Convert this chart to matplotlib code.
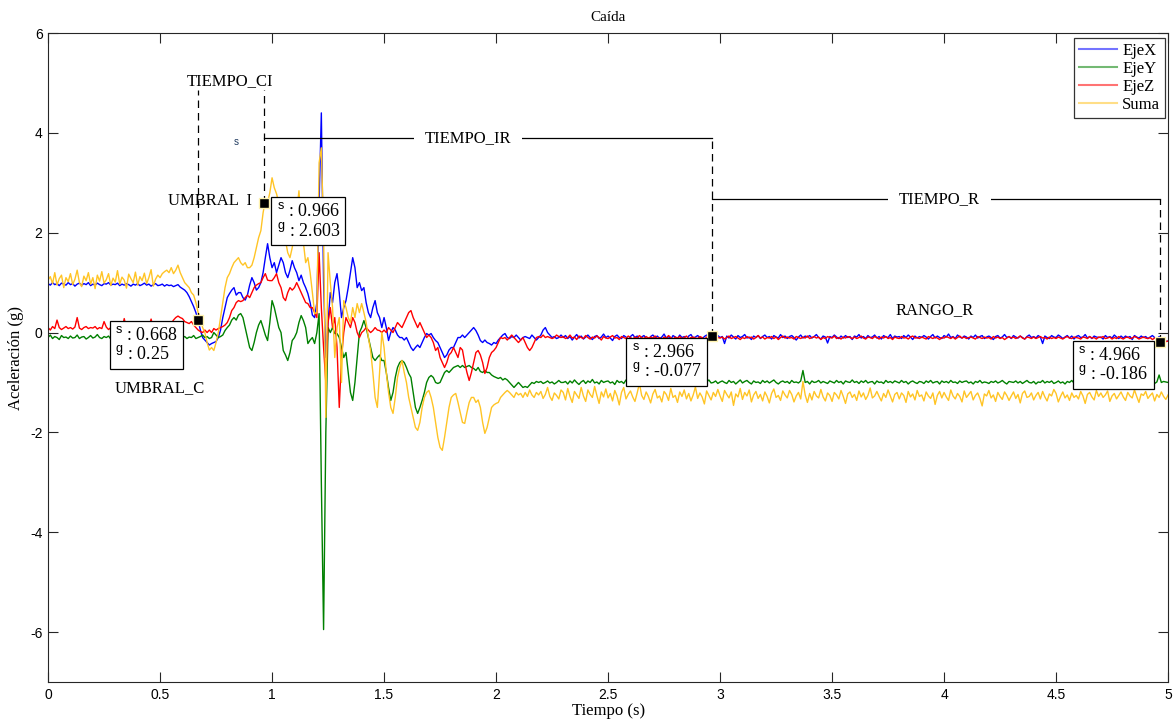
#%% Libraries
import numpy as np
import matplotlib
matplotlib.use("Agg")
import matplotlib.pyplot as plt
from matplotlib.lines import Line2D

plt.rcParams['font.family'] = ['Liberation Serif', 'DejaVu Serif']
plt.rcParams['axes.unicode_minus'] = False
plt.rcParams['mathtext.fontset'] = 'custom'
plt.rcParams['mathtext.sf'] = 'Liberation Sans'
plt.rcParams['mathtext.rm'] = 'Liberation Serif'

#%% data (aceleracion en centi-g, muestreo cada 0.01 s)
dt = 0.01

eje_x = [
    98, 95, 100, 96, 98, 94, 99, 97, 95, 100,
    96, 98, 93, 97, 99, 95, 98, 96, 100, 94,
    97, 95, 99, 96, 94, 98, 97, 100, 95, 97,
    96, 99, 94, 97, 95, 98, 96, 93, 97, 95,
    98, 94, 96, 99, 95, 97, 93, 96, 98, 94,
    95, 97, 93, 96, 94, 95, 92, 94, 96, 91,
    88, 85, 80, 72, 62, 52, 40, 24, 5, -10,
    -15, -20, -25, -22, -20, -18, -10, 5, 30, 50,
    70, 78, 85, 90, 75, 80, 80, 70, 65, 75,
    95, 110, 100, 85, 90, 100, 120, 150, 178, 150,
    130, 140, 120, 135, 150, 140, 120, 110, 125, 144,
    130, 120, 104, 115, 100, 90, 78, 60, 35, 30,
    60, 260, 440, 100, -50, 20, 80, 60, 100, 118,
    80, 30, 50, 64, 90, 120, 150, 130, 90, 100,
    84, 90, 60, 40, 30, 50, 64, 40, 30, 10,
    30, 10, -16, 0, 10, 5, -5, -10, -10, -15,
    -10, -20, -30, -36, -30, -25, -30, -20, -10, -2,
    -5, -2, -10, -16, -20, -30, -40, -50, -45, -35,
    -30, -30, -20, -10, -10, -5, -10, -5, 0, 5,
    10, 4, -5, -16, -20, -15, -20, -22, -25, -20,
    -22, -15, -10, -5, -2, -10, -12, -8, -10, -5,
    -10, -15, -10, -8, -10, -12, -5, -10, -15, -10,
    -5, 5, 10, 0, -5, -10, -8, -12, -10, -5,
    -10, -6, -12, -8, -15, -9, -4, -11, -7, -13,
    -9, -5, -10, -14, -8, -6, -12, -9, -3, -10,
    -7, -11, -16, -8, -5, -10, -12, -6, -9, -14,
    -8, -4, -10, -7, -13, -9, -6, -11, -20, -8,
    -5, -10, -7, -12, -9, -3, -11, -8, -14, -6,
    -9, -12, -5, -10, -8, -15, -7, -4, -11, -9,
    -6, -10, -13, -8, -5, -11, -7, -9, -12, -6,
    -10, -8, -22, -7, -11, -5, -9, -13, -6, -10,
    -8, -4, -11, -9, -14, -7, -10, -6, -12, -8,
    -5, -10, -8, -13, -6, -9, -11, -4, -10, -7,
    -12, -8, -6, -10, -15, -9, -5, -11, -7, -9,
    -6, -11, -8, -4, -10, -13, -7, -9, -21, -8,
    -10, -5, -9, -12, -7, -11, -6, -10, -8, -14,
    -7, -9, -4, -11, -8, -12, -6, -10, -9, -5,
    -11, -8, -13, -6, -9, -10, -4, -12, -7, -9,
    -8, -12, -6, -10, -5, -9, -14, -7, -11, -8,
    -10, -6, -9, -13, -8, -4, -11, -7, -10, -12,
    -6, -9, -3, -10, -8, -12, -5, -9, -11, -7,
    -9, -13, -7, -10, -5, -11, -8, -6, -12, -9,
    -7, -10, -14, -8, -6, -11, -9, -4, -10, -8,
    -12, -6, -9, -11, -7, -10, -13, -8, -5, -10,
    -8, -11, -6, -9, -22, -7, -10, -12, -6, -9,
    -10, -5, -8, -12, -9, -6, -11, -7, -13, -8,
    -6, -10, -9, -4, -11, -8, -12, -7, -9, -10,
    -9, -13, -6, -10, -8, -11, -5, -9, -12, -7,
    -11, -7, -10, -8, -14, -6, -9, -11, -7, -10,
    -8, -12, -9, -6, -10, -13, -8, -11, -15, -18,
    -17]

eje_y = [
    -10, -5, -12, -8, -10, -14, -6, -10, -9, -12,
    -7, -11, -10, -5, -12, -9, -8, -13, -10, -6,
    -11, -9, -4, -10, -12, -8, -10, -7, -13, -9,
    -10, -6, -12, -9, -11, -5, -10, -13, -8, -10,
    -9, -12, -7, -10, -5, -11, -9, -13, -10, -8,
    -12, -9, -10, -6, -11, -8, -13, -10, -7, -11,
    -10, -8, -12, -9, -10, -6, -12, -10, -8, -5,
    -10, -8, -12, -10, 0, -5, -10, -8, -5, 4,
    10, 15, 25, 30, 25, 35, 38, 30, 10, -10,
    -30, -36, -20, 0, 15, 24, 10, -5, -16, 20,
    64, 50, 30, 10, 0, -36, -45, -56, -40, -16,
    -10, 0, 20, 34, 24, 10, -22, -15, -10, -22,
    0, 38, -300, -595, -200, 10, 0, 10, -2, -2,
    -10, -30, -50, -40, -80, -120, -136, -100, -50, 0,
    10, 24, 10, -10, -30, -50, -56, -50, -45, -56,
    -56, -80, -110, -136, -120, -90, -70, -60, -56, -60,
    -70, -82, -90, -120, -150, -162, -150, -136, -120, -100,
    -90, -86, -90, -100, -102, -100, -90, -80, -76, -80,
    -75, -70, -68, -66, -70, -66, -70, -68, -66, -70,
    -72, -76, -70, -78, -80, -76, -80, -80, -85, -88,
    -90, -92, -90, -95, -92, -95, -100, -105, -110, -105,
    -100, -105, -110, -108, -110, -105, -100, -102, -98, -100,
    -98, -102, -100, -97, -101, -99, -103, -100, -96, -100,
    -100, -98, -103, -97, -101, -95, -100, -104, -99, -96,
    -102, -97, -100, -94, -101, -99, -103, -96, -100, -98,
    -97, -101, -99, -104, -96, -100, -98, -102, -95, -100,
    -99, -103, -97, -100, -86, -101, -98, -96, -102, -99,
    -101, -96, -100, -98, -103, -97, -99, -101, -95, -100,
    -98, -102, -99, -96, -100, -104, -97, -100, -98, -101,
    -96, -100, -103, -98, -99, -95, -101, -100, -97, -102,
    -99, -97, -100, -102, -96, -100, -98, -103, -99, -95,
    -101, -98, -96, -100, -103, -97, -100, -99, -102, -96,
    -100, -97, -101, -98, -95, -100, -103, -99, -97, -100,
    -98, -102, -96, -100, -99, -101, -97, -76, -100, -98,
    -103, -97, -100, -99, -96, -101, -98, -100, -102, -97,
    -99, -101, -96, -100, -98, -103, -97, -99, -100, -95,
    -100, -98, -102, -97, -100, -96, -101, -99, -98, -103,
    -97, -100, -99, -102, -96, -100, -98, -101, -97, -99,
    -101, -96, -100, -98, -103, -99, -97, -100, -102, -98,
    -99, -102, -97, -100, -96, -101, -99, -98, -103, -97,
    -100, -98, -101, -96, -100, -99, -102, -97, -100, -98,
    -97, -101, -99, -103, -98, -100, -96, -101, -99, -100,
    -102, -98, -100, -97, -101, -99, -96, -100, -103, -98,
    -99, -100, -97, -101, -98, -102, -99, -96, -100, -101,
    -98, -103, -99, -100, -96, -101, -98, -100, -97, -102,
    -100, -97, -101, -99, -103, -98, -100, -96, -101, -99,
    -98, -101, -97, -100, -99, -102, -96, -100, -98, -103,
    -100, -99, -102, -97, -101, -98, -100, -99, -96, -101,
    -99, -102, -98, -100, -97, -101, -99, -103, -98, -100,
    -97, -100, -101, -98, -102, -99, -85, -100, -98, -99,
    -100]

eje_z = [
    10, 5, 12, 8, 25, 10, 6, 9, 12, 8,
    10, 7, 11, 30, 9, 6, 10, 12, 8, 10,
    9, 12, 7, 10, 8, 22, 11, 6, 10, 9,
    12, 8, 10, 6, 28, 9, 11, 7, 10, 12,
    8, 10, 6, 12, 9, 10, 27, 8, 11, 7,
    10, 9, 12, 8, 11, 18, 25, 30, 33, 30,
    28, 22, 20, 18, 22, 15, 10, 5, 2, 0,
    5, 0, 5, 0, 8, 5, 8, 10, 12, 15,
    20, 30, 44, 50, 60, 64, 62, 64, 70, 75,
    70, 80, 90, 95, 98, 100, 110, 118, 105, 104,
    104, 110, 118, 100, 90, 70, 64, 80, 90, 85,
    90, 100, 90, 80, 70, 60, 58, 50, 50, 40,
    30, 160, 50, -30, -100, 20, 50, 10, 30, -30,
    -150, -50, 0, 30, 20, 10, 30, 20, 0, -10,
    0, 4, 10, 5, 0, 4, 10, 5, 4, 0,
    5, 0, 10, 5, 0, 10, 20, 15, 10, 20,
    30, 40, 44, 30, 20, 10, 20, 10, 0, -10,
    -5, -10, -20, -36, -30, -50, -60, -70, -60, -45,
    -40, -30, -40, -50, -30, -35, -60, -80, -96, -80,
    -60, -40, -36, -45, -60, -82, -70, -50, -40, -36,
    -30, -20, -10, -12, -10, -15, -10, -5, -10, -15,
    -20, -15, -10, -20, -30, -36, -30, -20, -10, -8,
    -10, -5, -10, -8, -10, -12, -10, -5, -8, -10,
    -8, -12, -10, -5, -11, -9, -14, -7, -10, -12,
    -6, -10, -13, -9, -11, -7, -10, -15, -8, -11,
    -12, -9, -6, -11, -10, -14, -8, -10, -12, -7,
    -10, -13, -9, -11, -6, -10, -12, -8, -11, -9,
    -11, -7, -12, -10, -14, -9, -11, -6, -10, -13,
    -9, -11, -8, -12, -10, -7, -13, -10, -9, -11,
    -12, -8, -10, -14, -9, -11, -7, -8, -12, -10,
    -11, -9, -13, -10, -7, -12, -10, -8, -11, -14,
    -10, -12, -8, -11, -9, -13, -10, -6, -11, -9,
    -13, -10, -11, -8, -12, -9, -14, -10, -7, -11,
    -9, -11, -10, -13, -8, -10, -12, -9, -11, -7,
    -12, -10, -8, -11, -9, -14, -10, -12, -8, -10,
    -11, -7, -12, -10, -13, -9, -11, -8, -10, -12,
    -9, -12, -10, -7, -11, -13, -9, -10, -12, -8,
    -10, -13, -9, -11, -8, -12, -10, -14, -9, -11,
    -12, -8, -11, -10, -13, -9, -7, -11, -10, -12,
    -9, -11, -13, -8, -10, -12, -9, -11, -14, -10,
    -11, -8, -10, -12, -9, -13, -10, -7, -11, -9,
    -12, -10, -9, -11, -13, -8, -10, -12, -9, -11,
    -10, -13, -8, -11, -9, -12, -10, -14, -11, -8,
    -11, -9, -12, -10, -7, -11, -13, -9, -10, -12,
    -9, -12, -10, -8, -11, -10, -13, -9, -12, -10,
    -12, -9, -11, -13, -10, -8, -11, -12, -9, -10,
    -11, -13, -9, -10, -12, -8, -11, -10, -13, -9,
    -10, -8, -12, -11, -9, -13, -10, -12, -8, -11,
    -13, -10, -9, -12, -11, -8, -10, -13, -11, -9,
    -11, -12, -10, -14, -11, -13, -15, -17, -16, -18,
    -17]

suma = [
    105, 112, 98, 120, 95, 108, 115, 90, 110, 102,
    118, 96, 107, 125, 100, 92, 113, 104, 120, 97,
    110, 88, 115, 103, 122, 99, 106, 118, 94, 109,
    101, 124, 97, 111, 105, 89, 117, 108, 100, 121,
    95, 112, 104, 119, 98, 110, 126, 93, 107, 115,
    110, 118, 122, 125, 120, 130, 118, 125, 135, 120,
    110, 100, 95, 90, 80, 75, 60, 40, 30, 10,
    0, -20, -35, -30, -36, -20, 0, 30, 60, 90,
    110, 118, 130, 140, 145, 150, 140, 135, 140, 130,
    130, 135, 150, 170, 190, 204, 240, 265, 260, 280,
    310, 290, 278, 260, 230, 200, 184, 160, 150, 170,
    200, 240, 284, 220, 180, 140, 150, 120, 80, 38,
    40, 340, 370, 200, -170, 160, 100, 50, -50, 10,
    30, -100, 64, 50, 30, 20, 50, 30, 58, 40,
    58, 40, 20, -10, -36, -80, -130, -150, -80, 0,
    -30, -80, -120, -150, -162, -130, -90, -70, -56, -80,
    -100, -130, -150, -170, -190, -196, -180, -150, -130, -120,
    -116, -130, -150, -180, -210, -230, -236, -210, -180, -150,
    -130, -125, -122, -140, -160, -180, -182, -160, -140, -130,
    -130, -140, -135, -150, -180, -202, -190, -170, -150, -145,
    -142, -140, -130, -125, -120, -116, -120, -125, -130, -120,
    -125, -122, -130, -120, -128, -115, -125, -130, -120, -125,
    -118, -132, -124, -110, -128, -136, -121, -126, -133, -115,
    -120, -135, -112, -128, -140, -118, -125, -132, -110, -127,
    -138, -115, -124, -130, -108, -126, -142, -119, -129, -113,
    -131, -122, -137, -116, -127, -145, -120, -110, -133, -124,
    -117, -129, -138, -121, -102, -126, -134, -119, -128, -141,
    -123, -114, -131, -127, -139, -118, -124, -136, -112, -130,
    -126, -140, -119, -128, -115, -133, -122, -137, -125, -109,
    -132, -121, -129, -143, -117, -126, -135, -120, -128, -114,
    -127, -138, -116, -124, -131, -119, -146, -123, -129, -112,
    -134, -120, -127, -115, -139, -125, -118, -132, -124, -137,
    -119, -128, -141, -122, -113, -130, -126, -136, -117, -125,
    -131, -116, -124, -139, -127, -120, -133, -98, -125, -140,
    -122, -135, -118, -127, -131, -114, -129, -137, -121, -126,
    -138, -120, -125, -133, -116, -128, -142, -123, -119, -130,
    -124, -136, -117, -129, -121, -134, -126, -111, -131, -127,
    -118, -128, -137, -122, -130, -115, -127, -139, -124, -120,
    -133, -121, -126, -140, -118, -129, -123, -135, -116, -128,
    -125, -137, -119, -127, -132, -121, -144, -126, -118, -131,
    -120, -129, -136, -115, -127, -133, -122, -128, -139, -117,
    -130, -124, -118, -135, -126, -121, -132, -147, -123, -127,
    -116, -131, -125, -138, -120, -128, -134, -119, -126, -136,
    -127, -119, -132, -124, -141, -122, -117, -130, -128, -121,
    -135, -126, -120, -133, -118, -129, -137, -123, -127, -114,
    -122, -139, -128, -119, -131, -125, -136, -121, -130, -126,
    -133, -118, -127, -142, -124, -120, -129, -135, -116, -128,
    -121, -130, -125, -117, -138, -127, -122, -133, -126, -119,
    -129, -136, -120, -127, -131, -115, -128, -140, -123, -126,
    -118, -132, -126, -121, -137, -124, -130, -119, -128, -134,
    -125]

labels = ['EjeX', 'EjeY', 'EjeZ', 'Suma']
colors = ['#0000FF', '#008000', '#FF0000', '#FFC425']

# data tips (s, g)
tip_s = [0.668, 0.966, 2.966, 4.966]
tip_g = [0.25, 2.603, -0.077, -0.186]

#%% plotting
fig = plt.figure(figsize=(11.75, 7.21), dpi=100)
ax = fig.add_axes([0.0409, 0.0541, 0.9532, 0.9001])

for serie, lab, col in zip([eje_x, eje_y, eje_z, suma], labels, colors):
    g = np.array(serie) / 100.0
    t = np.arange(len(g)) * dt
    ax.plot(t, g, color=col, lw=1.0, label=lab)

ax.set_xlim(0, 5)
ax.set_ylim(-7, 6)
ax.set_xticks([0, 0.5, 1, 1.5, 2, 2.5, 3, 3.5, 4, 4.5, 5])
ax.set_xticklabels(['0', '0.5', '1', '1.5', '2', '2.5', '3', '3.5', '4', '4.5', '5'])
ax.set_yticks([-6, -4, -2, 0, 2, 4, 6])
ax.set_yticklabels(['-6', '-4', '-2', '0', '2', '4', '6'])
ax.tick_params(direction='in', length=7, width=0.8, top=True, right=True,
               labelsize=10, pad=4, color='#262626')
for lb in ax.get_xticklabels() + ax.get_yticklabels():
    lb.set_family('Liberation Sans')
for sp in ax.spines.values():
    sp.set_color('#262626')
    sp.set_linewidth(0.8)

ax.set_title('Caída', fontsize=11, pad=9)
ax.set_xlabel('Tiempo (s)', fontsize=12, labelpad=1)
ax.set_ylabel('Aceleración (g)', fontsize=12, labelpad=4)

# guias de tiempo
dash = dict(color='black', lw=0.9, ls=(0, (6, 4)), zorder=5)
ax.plot([tip_s[0], tip_s[0]], [tip_g[0], 4.85], **dash)
ax.plot([tip_s[1], tip_s[1]], [tip_g[1], 4.85], **dash)
ax.plot([tip_s[2], tip_s[2]], [tip_g[2], 3.9], **dash)
ax.plot([tip_s[3], tip_s[3]], [tip_g[3], 2.68], **dash)
ax.plot([tip_s[1], tip_s[2]], [3.9, 3.9], color='black', lw=0.9, zorder=5)
ax.plot([tip_s[2], tip_s[3]], [2.68, 2.68], color='black', lw=0.9, zorder=5)

ax.text(0.8125, 5.04, 'TIEMPO_CI', fontsize=12, ha='center', va='center', zorder=6)
ax.text(1.875, 3.9, 'TIEMPO_IR', fontsize=12, ha='center', va='center',
        bbox=dict(facecolor='white', edgecolor='none', pad=8), zorder=6)
ax.text(3.98, 2.68, 'TIEMPO_R', fontsize=12, ha='center', va='center',
        bbox=dict(facecolor='white', edgecolor='none', pad=8), zorder=6)
ax.text(3.96, 0.44, 'RANGO_R', fontsize=12, ha='center', va='center', zorder=6)
ax.text(0.91, 2.64, 'UMBRAL  I', fontsize=12, ha='right', va='center', zorder=6)
ax.text(0.5, -1.12, 'UMBRAL_C', fontsize=12, ha='center', va='center', zorder=6)
ax.text(0.84, 3.82, 's', fontsize=7, ha='center', va='center', color='#1f3a5f',
        family='Liberation Sans', zorder=6)

# data tips
ax.plot(tip_s, tip_g, 's', ms=7, mfc='black', mec='#FFF3B0', mew=1.0, zorder=8)
box_pos = [(0.30, 0.13), (1.02, 2.61), (2.605, -0.21), (4.60, -0.27)]
for (bx, by), s, g in zip(box_pos, tip_s, tip_g):
    s_txt = ('%.3f' % s).rstrip('0')
    g_txt = ('%.3f' % g).rstrip('0')
    ax.text(bx, by, r'$^{\mathsf{s}}$ : %s' '\n' r'$^{\mathsf{g}}$ : %s' % (s_txt, g_txt),
            fontsize=13, ha='left', va='top', linespacing=1.1, zorder=9,
            bbox=dict(boxstyle='square,pad=0.3', facecolor='white',
                      edgecolor='black', lw=0.9))

handles = [Line2D([], [], color=c, lw=1.5, alpha=0.55) for c in colors]
leg = ax.legend(handles, labels, loc='upper right', bbox_to_anchor=(0.9975, 0.993),
                fontsize=12, labelspacing=0.12, handlelength=2.3, handletextpad=0.3,
                borderpad=0.3, borderaxespad=0, fancybox=False, framealpha=1)
leg.get_frame().set_edgecolor('#333333')
leg.get_frame().set_linewidth(0.9)

plt.savefig('out.png', dpi=100)
